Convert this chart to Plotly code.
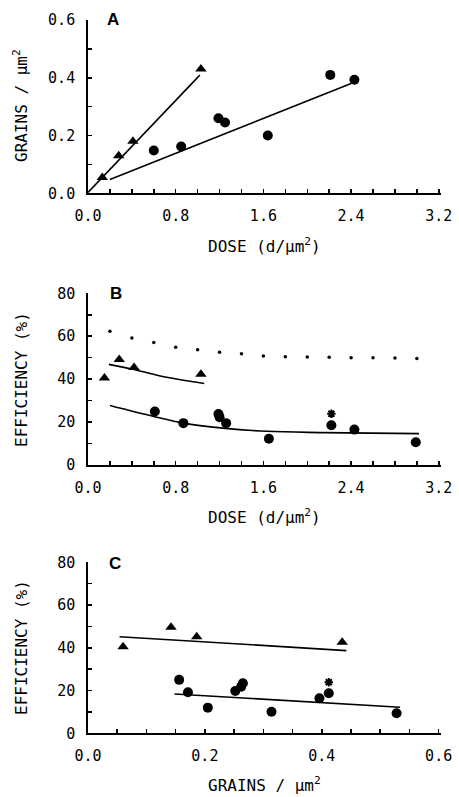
import plotly.graph_objects as go

# ---------------- Panel A data ----------------
tri_dose_A = [0.13, 0.28, 0.41, 1.03]
tri_grains_A = [0.055, 0.13, 0.18, 0.43]
circ_dose_A = [0.60, 0.85, 1.19, 1.25, 1.64, 2.21, 2.43]
circ_grains_A = [0.148, 0.162, 0.26, 0.245, 0.20, 0.41, 0.393]
tri_fit_dose_A = [0.0, 1.02]
tri_fit_grains_A = [0.003, 0.409]
circ_fit_dose_A = [0.20, 2.40]
circ_fit_grains_A = [0.048, 0.38]

# ---------------- Panel B data ----------------
tri_dose_B = [0.15, 0.285, 0.42, 1.03]
tri_eff_B = [40.5, 49.2, 45.4, 42.3]
circ_dose_B = [0.61, 0.87, 1.19, 1.20, 1.26, 1.65, 2.22, 2.43, 2.99]
circ_eff_B = [24.9, 19.5, 23.8, 22.3, 19.5, 12.2, 18.5, 16.5, 10.6]
star_dose_B = [2.22]
star_eff_B = [23.9]
dot_dose_B = [0.2, 0.4, 0.6, 0.8, 1.0, 1.2, 1.4, 1.6, 1.8, 2.0, 2.2, 2.4, 2.6, 2.8, 3.0]
dot_eff_B = [62.3, 59.2, 57.1, 54.9, 53.7, 52.5, 51.8, 50.8, 50.4, 50.3, 50.2, 50.0, 50.0, 49.9, 49.6]
tri_fit_dose_B = [0.19, 0.41, 0.66, 1.06]
tri_fit_eff_B = [46.9, 44.6, 41.5, 38.0]
circ_fit_dose_B = [0.20, 0.60, 0.87, 1.23, 1.63, 2.14, 3.02]
circ_fit_eff_B = [27.7, 22.6, 19.5, 17.2, 15.7, 15.1, 14.6]

# ---------------- Panel C data ----------------
tri_grains_C = [0.06, 0.142, 0.186, 0.435]
tri_eff_C = [40.5, 49.6, 45.2, 42.6]
circ_grains_C = [0.156, 0.171, 0.205, 0.252, 0.262, 0.265, 0.314, 0.396, 0.412, 0.528]
circ_eff_C = [25.0, 19.2, 12.0, 19.8, 21.8, 23.4, 10.1, 16.4, 18.7, 9.4]
star_grains_C = [0.412]
star_eff_C = [23.9]
tri_fit_grains_C = [0.054, 0.442]
tri_fit_eff_C = [45.2, 38.7]
circ_fit_grains_C = [0.148, 0.534]
circ_fit_eff_C = [18.4, 12.2]

W, H = 459, 797
MONO = "DejaVu Sans Mono"

def px_x(p):
    return p / W

def px_y(p):
    return 1 - p / H

fig = go.Figure()

TRI = dict(symbol="triangle-up", size=10, color="black")
CIRC = dict(symbol="circle", size=10, color="black")
STAR = dict(symbol="asterisk-open", size=7, color="black", line=dict(width=2, color="black"))
LINE = dict(color="black", width=1.6)

# Panel A
fig.add_trace(go.Scatter(x=tri_fit_dose_A, y=tri_fit_grains_A, mode="lines", line=LINE, xaxis="x", yaxis="y"))
fig.add_trace(go.Scatter(x=circ_fit_dose_A, y=circ_fit_grains_A, mode="lines", line=LINE, xaxis="x", yaxis="y"))
fig.add_trace(go.Scatter(x=tri_dose_A, y=tri_grains_A, mode="markers", marker=TRI, xaxis="x", yaxis="y"))
fig.add_trace(go.Scatter(x=circ_dose_A, y=circ_grains_A, mode="markers", marker=CIRC, xaxis="x", yaxis="y"))

# Panel B
fig.add_trace(go.Scatter(x=dot_dose_B, y=dot_eff_B, mode="markers", marker=dict(symbol="circle", size=3.5, color="black"), xaxis="x2", yaxis="y2"))
fig.add_trace(go.Scatter(x=tri_fit_dose_B, y=tri_fit_eff_B, mode="lines", line=dict(shape="spline", **LINE), xaxis="x2", yaxis="y2"))
fig.add_trace(go.Scatter(x=circ_fit_dose_B, y=circ_fit_eff_B, mode="lines", line=dict(shape="spline", **LINE), xaxis="x2", yaxis="y2"))
fig.add_trace(go.Scatter(x=tri_dose_B, y=tri_eff_B, mode="markers", marker=TRI, xaxis="x2", yaxis="y2"))
fig.add_trace(go.Scatter(x=circ_dose_B, y=circ_eff_B, mode="markers", marker=CIRC, xaxis="x2", yaxis="y2"))
fig.add_trace(go.Scatter(x=star_dose_B, y=star_eff_B, mode="markers", marker=STAR, xaxis="x2", yaxis="y2"))

# Panel C
fig.add_trace(go.Scatter(x=tri_fit_grains_C, y=tri_fit_eff_C, mode="lines", line=LINE, xaxis="x3", yaxis="y3"))
fig.add_trace(go.Scatter(x=circ_fit_grains_C, y=circ_fit_eff_C, mode="lines", line=LINE, xaxis="x3", yaxis="y3"))
fig.add_trace(go.Scatter(x=tri_grains_C, y=tri_eff_C, mode="markers", marker=TRI, xaxis="x3", yaxis="y3"))
fig.add_trace(go.Scatter(x=circ_grains_C, y=circ_eff_C, mode="markers", marker=CIRC, xaxis="x3", yaxis="y3"))
fig.add_trace(go.Scatter(x=star_grains_C, y=star_eff_C, mode="markers", marker=STAR, xaxis="x3", yaxis="y3"))

xdom = [px_x(88), px_x(441)]
doms = {
    "A": [px_y(193.3), px_y(20)],
    "B": [px_y(465), px_y(293.3)],
    "C": [px_y(733.3), px_y(562.3)],
}

tickfont = dict(family=MONO, size=15, color="black")

def axis_common():
    return dict(
        showline=True, linecolor="black", linewidth=1.8, mirror=False,
        showgrid=False, zeroline=False, automargin=False,
        ticks="inside", ticklen=4, tickwidth=1.5, tickcolor="black",
        tickfont=tickfont, ticklabelstandoff=8,
    )

MINOR = dict(ticks="inside", ticklen=4, tickwidth=1.5, tickcolor="black", tick0=0)

fig.update_layout(
    width=W, height=H,
    margin=dict(l=0, r=0, t=0, b=0, autoexpand=False),
    paper_bgcolor="white", plot_bgcolor="white",
    showlegend=False,
    xaxis=dict(domain=xdom, anchor="y", range=[0, 3.22], tickvals=[0, 0.8, 1.6, 2.4, 3.2],
               ticktext=["0.0", "0.8", "1.6", "2.4", "3.2"],
               minor=dict(dtick=0.2, **MINOR), **axis_common()),
    yaxis=dict(domain=doms["A"], anchor="x", range=[0, 0.6], tickvals=[0, 0.2, 0.4, 0.6],
               ticktext=["0.0", "0.2", "0.4", "0.6"],
               minor=dict(dtick=0.1, **MINOR), **axis_common()),
    xaxis2=dict(domain=xdom, anchor="y2", range=[0, 3.22], tickvals=[0, 0.8, 1.6, 2.4, 3.2],
                ticktext=["0.0", "0.8", "1.6", "2.4", "3.2"],
                minor=dict(dtick=0.2, **MINOR), **axis_common()),
    yaxis2=dict(domain=doms["B"], anchor="x2", range=[0, 80], tickvals=[0, 20, 40, 60, 80],
                minor=dict(dtick=10, **MINOR), **axis_common()),
    xaxis3=dict(domain=xdom, anchor="y3", range=[0, 0.604], tickvals=[0, 0.2, 0.4, 0.6],
                ticktext=["0.0", "0.2", "0.4", "0.6"],
                minor=dict(dtick=0.05, **MINOR), **axis_common()),
    yaxis3=dict(domain=doms["C"], anchor="x3", range=[0, 80], tickvals=[0, 20, 40, 60, 80],
                minor=dict(dtick=10, **MINOR), **axis_common()),
)

titlefont = dict(family=MONO, size=16, color="black")
labelfont = dict(family="Liberation Sans", size=17, color="black", weight="bold")

annots = []
for text, x, y in [("A", 113, 19), ("B", 116, 293.5), ("C", 115, 563)]:
    annots.append(dict(text=text, x=px_x(x), y=px_y(y), xref="paper", yref="paper",
                       xanchor="center", yanchor="middle", showarrow=False, font=labelfont))

for text, x, y in [("DOSE (d/μm<sup>2</sup>)", 264, 246),
                   ("DOSE (d/μm<sup>2</sup>)", 264, 516),
                   ("GRAINS / μm<sup>2</sup>", 264, 784)]:
    annots.append(dict(text=text, x=px_x(x), y=px_y(y), xref="paper", yref="paper",
                       xanchor="center", yanchor="middle", showarrow=False, font=titlefont))

for text, y in [("GRAINS / μm<sup>2</sup>", 106),
                ("EFFICIENCY (%)", 380),
                ("EFFICIENCY (%)", 648)]:
    annots.append(dict(text=text, x=px_x(21), y=px_y(y), xref="paper", yref="paper",
                       xanchor="center", yanchor="middle", textangle=-90,
                       showarrow=False, font=titlefont))

fig.update_layout(annotations=annots)

fig.write_html(
    "out.html",
    config={"displayModeBar": False, "staticPlot": True},
    post_script="document.body.style.margin='0';document.body.style.overflow='hidden';",
)
